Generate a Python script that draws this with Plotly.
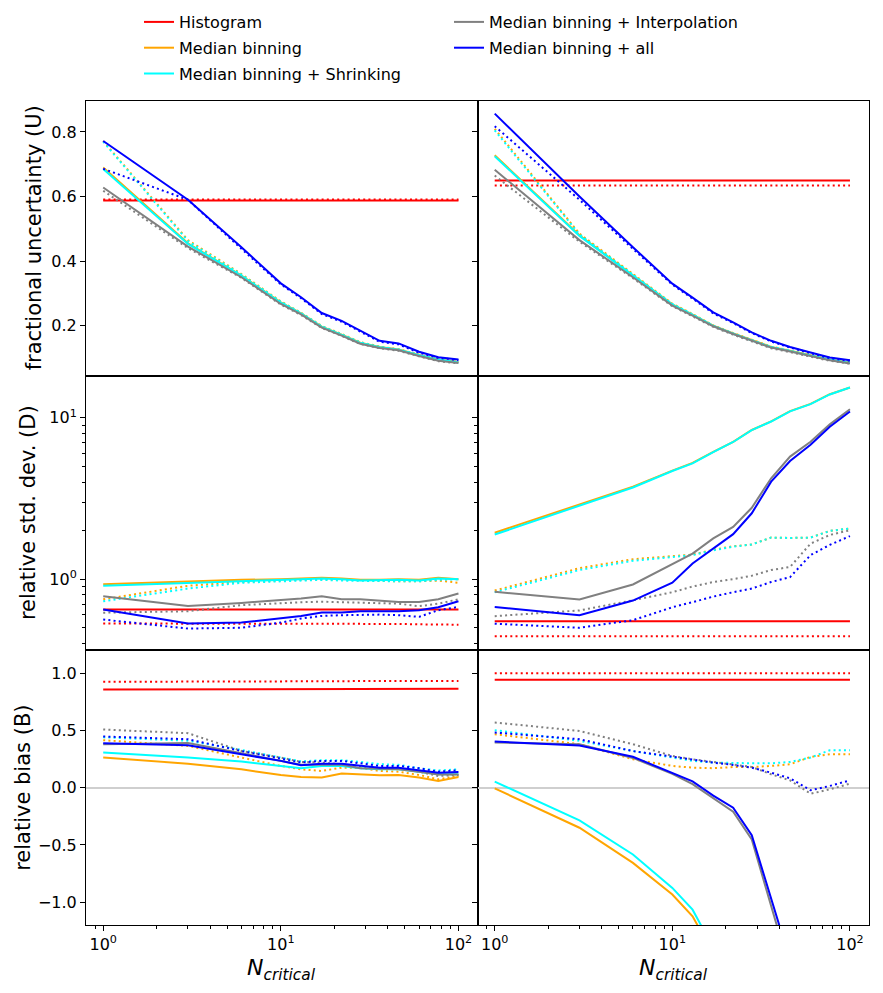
import math
import plotly.graph_objects as go
from plotly.subplots import make_subplots

# ---------------- data ----------------
N_CRIT = [1, 3, 6, 10, 13, 17, 22, 28, 36, 46, 60, 77, 100]

METHODS = ["Histogram", "Median binning", "Median binning + Shrinking",
           "Median binning + Interpolation", "Median binning + all"]

# Row 1: fractional uncertainty (U) -- left panel
U_L_hist = [0.588, 0.588, 0.588, 0.588, 0.588, 0.588, 0.588, 0.588, 0.588, 0.588, 0.588, 0.588, 0.588]
U_L_hist_dot = [0.591, 0.591, 0.591, 0.591, 0.591, 0.591, 0.591, 0.591, 0.591, 0.591, 0.591, 0.591, 0.591]
U_L_med = [0.69, 0.455, 0.355, 0.272, 0.238, 0.197, 0.172, 0.147, 0.134, 0.126, 0.109, 0.095, 0.087]
U_L_med_dot = [0.772, 0.465, 0.36, 0.275, 0.24, 0.199, 0.174, 0.149, 0.135, 0.127, 0.11, 0.096, 0.088]
U_L_shr = [0.685, 0.453, 0.354, 0.271, 0.237, 0.196, 0.171, 0.146, 0.133, 0.125, 0.108, 0.094, 0.086]
U_L_shr_dot = [0.77, 0.462, 0.358, 0.274, 0.239, 0.198, 0.173, 0.148, 0.134, 0.126, 0.109, 0.095, 0.087]
U_L_int = [0.628, 0.445, 0.35, 0.267, 0.235, 0.194, 0.169, 0.144, 0.131, 0.124, 0.106, 0.091, 0.084]
U_L_int_dot = [0.618, 0.44, 0.348, 0.265, 0.233, 0.193, 0.168, 0.143, 0.13, 0.122, 0.105, 0.09, 0.083]
U_L_all = [0.772, 0.59, 0.443, 0.331, 0.288, 0.239, 0.215, 0.184, 0.153, 0.145, 0.119, 0.102, 0.095]
U_L_all_dot = [0.686, 0.59, 0.438, 0.328, 0.285, 0.236, 0.212, 0.181, 0.15, 0.142, 0.116, 0.1, 0.093]

# Row 1: fractional uncertainty (U) -- right panel
U_R_hist = [0.65, 0.65, 0.65, 0.65, 0.65, 0.65, 0.65, 0.65, 0.65, 0.65, 0.65, 0.65, 0.65]
U_R_hist_dot = [0.634, 0.634, 0.634, 0.634, 0.634, 0.634, 0.634, 0.634, 0.634, 0.634, 0.634, 0.634, 0.634]
U_R_med = [0.728, 0.48, 0.356, 0.266, 0.234, 0.2, 0.176, 0.155, 0.134, 0.122, 0.109, 0.095, 0.085]
U_R_med_dot = [0.81, 0.485, 0.36, 0.268, 0.236, 0.201, 0.177, 0.156, 0.135, 0.123, 0.11, 0.096, 0.086]
U_R_shr = [0.725, 0.478, 0.355, 0.265, 0.233, 0.199, 0.175, 0.154, 0.133, 0.121, 0.108, 0.094, 0.084]
U_R_shr_dot = [0.805, 0.483, 0.358, 0.267, 0.235, 0.2, 0.176, 0.155, 0.134, 0.122, 0.109, 0.095, 0.085]
U_R_int = [0.683, 0.465, 0.35, 0.262, 0.231, 0.198, 0.174, 0.153, 0.132, 0.12, 0.107, 0.093, 0.083]
U_R_int_dot = [0.665, 0.46, 0.347, 0.26, 0.229, 0.196, 0.172, 0.151, 0.13, 0.118, 0.105, 0.091, 0.082]
U_R_all = [0.857, 0.6, 0.443, 0.33, 0.287, 0.241, 0.21, 0.179, 0.153, 0.134, 0.117, 0.101, 0.093]
U_R_all_dot = [0.818, 0.59, 0.438, 0.327, 0.284, 0.238, 0.208, 0.177, 0.151, 0.132, 0.115, 0.099, 0.091]

# Row 2: relative std. dev. (D) -- left panel
D_L_hist = [0.648, 0.648, 0.648, 0.648, 0.648, 0.648, 0.648, 0.648, 0.648, 0.648, 0.648, 0.648, 0.648]
D_L_hist_dot = [0.531, 0.531, 0.531, 0.531, 0.531, 0.531, 0.531, 0.531, 0.531, 0.528, 0.525, 0.522, 0.522]
D_L_med = [0.93, 0.97, 0.99, 1.0, 1.01, 1.02, 1.01, 0.99, 0.99, 1.0, 0.99, 1.02, 1.0]
D_L_med_dot = [0.75, 0.91, 0.96, 0.985, 0.99, 1.0, 0.99, 0.98, 0.97, 0.97, 0.97, 0.98, 0.95]
D_L_shr = [0.91, 0.95, 0.98, 0.99, 1.0, 1.01, 1.0, 0.98, 0.99, 0.99, 0.98, 1.01, 1.0]
D_L_shr_dot = [0.73, 0.875, 0.95, 0.97, 0.975, 0.99, 0.98, 0.975, 0.97, 0.97, 0.97, 0.99, 1.0]
D_L_int = [0.784, 0.683, 0.713, 0.741, 0.759, 0.784, 0.751, 0.751, 0.737, 0.723, 0.723, 0.751, 0.815]
D_L_int_dot = [0.62, 0.633, 0.69, 0.714, 0.72, 0.725, 0.72, 0.72, 0.715, 0.705, 0.68, 0.705, 0.75]
D_L_all = [0.648, 0.531, 0.538, 0.575, 0.592, 0.621, 0.621, 0.633, 0.633, 0.633, 0.642, 0.67, 0.73]
D_L_all_dot = [0.562, 0.494, 0.5, 0.538, 0.57, 0.592, 0.598, 0.603, 0.603, 0.598, 0.584, 0.642, 0.673]

# Row 2: relative std. dev. (D) -- right panel
D_R_hist = [0.548, 0.548, 0.548, 0.548, 0.548, 0.548, 0.55, 0.55, 0.55, 0.548, 0.548, 0.548, 0.548]
D_R_hist_dot = [0.443, 0.443, 0.443, 0.443, 0.441, 0.441, 0.441, 0.441, 0.443, 0.443, 0.443, 0.443, 0.443]
D_R_med = [1.94, 2.91, 3.74, 4.71, 5.25, 6.15, 7.1, 8.4, 9.5, 11.0, 12.2, 14.0, 15.4]
D_R_med_dot = [0.85, 1.17, 1.33, 1.39, 1.42, 1.52, 1.6, 1.64, 1.81, 1.8, 1.81, 1.99, 2.06]
D_R_shr = [1.89, 2.87, 3.7, 4.68, 5.22, 6.12, 7.08, 8.38, 9.48, 10.95, 12.15, 13.95, 15.4]
D_R_shr_dot = [0.83, 1.14, 1.3, 1.37, 1.41, 1.51, 1.59, 1.64, 1.81, 1.8, 1.81, 1.99, 2.06]
D_R_int = [0.835, 0.748, 0.927, 1.24, 1.44, 1.79, 2.11, 2.77, 4.22, 5.75, 7.1, 9.1, 11.3]
D_R_int_dot = [0.59, 0.64, 0.74, 0.83, 0.9, 0.96, 1.0, 1.05, 1.14, 1.19, 1.66, 1.88, 2.01]
D_R_all = [0.673, 0.597, 0.737, 0.95, 1.25, 1.55, 1.9, 2.56, 4.02, 5.4, 6.8, 8.8, 10.95]
D_R_all_dot = [0.53, 0.5, 0.557, 0.67, 0.72, 0.78, 0.83, 0.875, 0.96, 1.03, 1.41, 1.63, 1.85]

# Row 3: relative bias (B) -- left panel
B_L_hist = [0.858, 0.858, 0.858, 0.858, 0.858, 0.858, 0.862, 0.864, 0.864, 0.864, 0.864, 0.864, 0.864]
B_L_hist_dot = [0.925, 0.925, 0.925, 0.925, 0.925, 0.926, 0.93, 0.932, 0.932, 0.932, 0.932, 0.932, 0.932]
B_L_med = [0.263, 0.21, 0.16, 0.111, 0.093, 0.088, 0.123, 0.117, 0.108, 0.111, 0.088, 0.058, 0.093]
B_L_med_dot = [0.415, 0.365, 0.263, 0.19, 0.16, 0.146, 0.175, 0.172, 0.146, 0.14, 0.111, 0.073, 0.102]
B_L_shr = [0.307, 0.263, 0.228, 0.19, 0.17, 0.19, 0.19, 0.17, 0.16, 0.16, 0.137, 0.117, 0.117]
B_L_shr_dot = [0.44, 0.41, 0.33, 0.26, 0.23, 0.24, 0.24, 0.225, 0.205, 0.2, 0.17, 0.15, 0.16]
B_L_int = [0.38, 0.39, 0.3, 0.235, 0.2, 0.2, 0.2, 0.17, 0.165, 0.16, 0.14, 0.115, 0.115]
B_L_int_dot = [0.508, 0.476, 0.321, 0.263, 0.225, 0.219, 0.204, 0.19, 0.169, 0.169, 0.14, 0.102, 0.111]
B_L_all = [0.388, 0.371, 0.292, 0.234, 0.196, 0.21, 0.21, 0.19, 0.175, 0.175, 0.152, 0.131, 0.137]
B_L_all_dot = [0.447, 0.423, 0.32, 0.25, 0.22, 0.234, 0.234, 0.213, 0.19, 0.19, 0.17, 0.14, 0.152]

# Row 3: relative bias (B) -- right panel
B_R_hist = [0.943, 0.943, 0.943, 0.943, 0.943, 0.943, 0.943, 0.943, 0.943, 0.943, 0.943, 0.943, 0.943]
B_R_hist_dot = [1.0, 1.0, 1.0, 1.0, 1.0, 1.0, 1.0, 1.0, 1.0, 1.0, 1.0, 1.0, 1.0]
B_R_med = [-0.006, -0.35, -0.657, -0.934, -1.124, -1.45, -2.0, -2.6, -3.3, -4.0, -4.8, -5.6, -6.5]
B_R_med_dot = [0.467, 0.38, 0.248, 0.19, 0.175, 0.17, 0.18, 0.18, 0.19, 0.204, 0.269, 0.292, 0.292]
B_R_shr = [0.053, -0.286, -0.584, -0.876, -1.066, -1.4, -1.9, -2.5, -3.2, -3.9, -4.7, -5.5, -6.4]
B_R_shr_dot = [0.502, 0.409, 0.32, 0.263, 0.234, 0.219, 0.213, 0.213, 0.213, 0.225, 0.263, 0.327, 0.327]
B_R_int = [0.394, 0.38, 0.26, 0.12, 0.03, -0.09, -0.21, -0.453, -1.02, -1.6, -2.3, -3.0, -3.8]
B_R_int_dot = [0.569, 0.496, 0.38, 0.277, 0.248, 0.225, 0.204, 0.181, 0.117, 0.064, -0.053, -0.015, 0.035]
B_R_all = [0.403, 0.368, 0.27, 0.13, 0.055, -0.07, -0.175, -0.415, -0.963, -1.51, -2.2, -2.9, -3.7]
B_R_all_dot = [0.482, 0.423, 0.32, 0.269, 0.248, 0.219, 0.199, 0.175, 0.131, 0.082, -0.023, 0.015, 0.064]

X_TICKS = [1, 10, 100]
X_TICKTEXT = ["10<sup>0</sup>", "10<sup>1</sup>", "10<sup>2</sup>"]
D_TICKS = [1, 10]
D_TICKTEXT = ["10<sup>0</sup>", "10<sup>1</sup>"]
U_TICKS = [0.2, 0.4, 0.6, 0.8]
B_TICKS = [-1.0, -0.5, 0.0, 0.5, 1.0]
ROW_TITLES = ["fractional uncertainty (U)", "relative std. dev. (D)", "relative bias (B)"]
X_TITLE = "<i>N</i><sub><i>critical</i></sub>"

# ---------------- styling ----------------
COLORS = ["#ff0000", "#ffa500", "#00ffff", "#808080", "#0000ff"]
FONT = "DejaVu Sans"
DOT = "2px,3.2px"
W, H = 875, 985  # page body adds an 8px offset
TITLE_X = [-0.0664, -0.074, -0.0815]   # paper x of each row's y-title centre

panels = {
    (1, 1): [(U_L_hist, U_L_hist_dot), (U_L_med, U_L_med_dot), (U_L_shr, U_L_shr_dot), (U_L_int, U_L_int_dot), (U_L_all, U_L_all_dot)],
    (1, 2): [(U_R_hist, U_R_hist_dot), (U_R_med, U_R_med_dot), (U_R_shr, U_R_shr_dot), (U_R_int, U_R_int_dot), (U_R_all, U_R_all_dot)],
    (2, 1): [(D_L_hist, D_L_hist_dot), (D_L_med, D_L_med_dot), (D_L_shr, D_L_shr_dot), (D_L_int, D_L_int_dot), (D_L_all, D_L_all_dot)],
    (2, 2): [(D_R_hist, D_R_hist_dot), (D_R_med, D_R_med_dot), (D_R_shr, D_R_shr_dot), (D_R_int, D_R_int_dot), (D_R_all, D_R_all_dot)],
    (3, 1): [(B_L_hist, B_L_hist_dot), (B_L_med, B_L_med_dot), (B_L_shr, B_L_shr_dot), (B_L_int, B_L_int_dot), (B_L_all, B_L_all_dot)],
    (3, 2): [(B_R_hist, B_R_hist_dot), (B_R_med, B_R_med_dot), (B_R_shr, B_R_shr_dot), (B_R_int, B_R_int_dot), (B_R_all, B_R_all_dot)],
}

fig = make_subplots(rows=3, cols=2, horizontal_spacing=0, vertical_spacing=0)

for (r, c), series in panels.items():
    for i, (solid, dot) in enumerate(series):
        show = (r == 1 and c == 1)
        fig.add_trace(go.Scatter(
            x=N_CRIT, y=solid, mode="lines", name=METHODS[i],
            line=dict(color=COLORS[i], width=2),
            showlegend=show, legend="legend" if i < 3 else "legend2",
            legendgroup=METHODS[i], hoverinfo="skip"), row=r, col=c)
        fig.add_trace(go.Scatter(
            x=N_CRIT, y=dot, mode="lines", name=METHODS[i] + " (dotted)",
            line=dict(color=COLORS[i], width=2, dash=DOT),
            showlegend=False, legendgroup=METHODS[i], hoverinfo="skip"), row=r, col=c)

xr = [math.log10(0.8), math.log10(128)]
x_minor = [0.9, 2, 3, 4, 5, 6, 7, 8, 9, 20, 30, 40, 50, 60, 70, 80, 90]
d_minor = [0.4, 0.5, 0.6, 0.7, 0.8, 0.9, 2, 3, 4, 5, 6, 7, 8, 9]
tickfont = dict(family=FONT, size=16, color="black")
axbase = dict(showline=True, linecolor="black", linewidth=1, mirror=True,
              showgrid=False, zeroline=False, tickfont=tickfont, automargin=False,
              tickcolor="black", ticklen=5, tickwidth=1)

for r in (1, 2, 3):
    for c in (1, 2):
        bottom = (r == 3)
        xa = dict(axbase, type="log", range=xr)
        if bottom:
            xa.update(ticks="outside", tickvals=X_TICKS, ticktext=X_TICKTEXT,
                      minor=dict(tickvals=x_minor, ticks="outside", ticklen=3,
                                 tickcolor="black", tickwidth=1))
        else:
            xa.update(ticks="", showticklabels=False)
        fig.update_xaxes(xa, row=r, col=c)

        ya = dict(axbase, ticks="outside", showticklabels=(c == 1))
        if r == 1:
            ya.update(range=[0.045, 0.896], tickvals=U_TICKS, tickformat=".1f")
        elif r == 2:
            ya.update(type="log", range=[-0.441, 1.261], tickvals=D_TICKS,
                      ticktext=D_TICKTEXT,
                      minor=dict(tickvals=d_minor, ticks="outside", ticklen=3,
                                 tickcolor="black", tickwidth=1))
        else:
            ya.update(range=[-1.2, 1.2], tickvals=B_TICKS, tickformat=".1f",
                      zeroline=True, zerolinecolor="#cfcfcf", zerolinewidth=2)
        fig.update_yaxes(ya, row=r, col=c)

# y-axis titles, one per row, centred on the row's left panel
for r in (1, 2, 3):
    yref = "y domain" if r == 1 else f"y{2 * r - 1} domain"
    fig.add_annotation(text=ROW_TITLES[r - 1], xref="paper", yref=yref,
                       x=TITLE_X[r - 1], y=0.5, xanchor="center", yanchor="middle",
                       textangle=-90, showarrow=False,
                       font=dict(family=FONT, size=21, color="black"))

# x-axis titles under each bottom panel
for xref in ("x5 domain", "x6 domain"):
    fig.add_annotation(text=X_TITLE, xref=xref, yref="paper",
                       x=0.5, y=-0.0546, xanchor="center", yanchor="middle",
                       showarrow=False,
                       font=dict(family=FONT, size=22, color="black"))

legfont = dict(family=FONT, size=16, color="black")
fig.update_layout(
    width=W, height=H,
    margin=dict(l=78, r=14, t=93, b=68, autoexpand=False),
    paper_bgcolor="white", plot_bgcolor="white",
    font=dict(family=FONT, size=16, color="black"),
    legend=dict(x=0.0677, y=1.1165, xanchor="left", yanchor="top",
                font=legfont, bgcolor="rgba(0,0,0,0)", tracegroupgap=2),
    legend2=dict(x=0.4636, y=1.1165, xanchor="left", yanchor="top",
                 font=legfont, bgcolor="rgba(0,0,0,0)", tracegroupgap=2),
)

fig.write_html("out.html")
